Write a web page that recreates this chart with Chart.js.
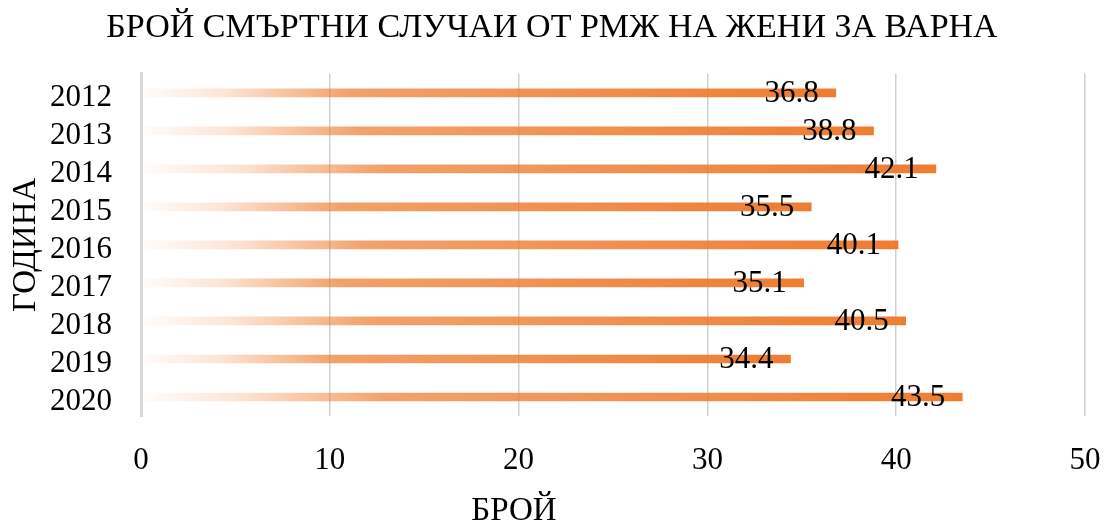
<!DOCTYPE html>
<html>
<head>
<meta charset="utf-8">
<title>БРОЙ СМЪРТНИ СЛУЧАИ ОТ РМЖ НА ЖЕНИ ЗА ВАРНА</title>
<script src="https://cdn.jsdelivr.net/npm/chart.js@4/dist/chart.umd.min.js"></script>
<style>
  html, body { margin: 0; padding: 0; background: #fff; }
  canvas { display: block; }
</style>
</head>
<body>
<canvas id="chart" width="1104" height="522"></canvas>
<script>
// data
const years = ['2012', '2013', '2014', '2015', '2016', '2017', '2018', '2019', '2020'];
const deaths = [36.8, 38.8, 42.1, 35.5, 40.1, 35.1, 40.5, 34.4, 43.5];
const xTicks = [0, 10, 20, 30, 40, 50];

const SERIF = '"Liberation Serif", "Times New Roman", serif';
const ORANGE = 'rgb(237,125,49)';

// each bar fades from nothing at zero to full orange at its end
function barGradient(context) {
  const chart = context.chart;
  if (!chart.chartArea || context.type !== 'data') return ORANGE;
  const xScale = chart.scales.x;
  const x0 = xScale.getPixelForValue(0);
  const x1 = xScale.getPixelForValue(context.raw);
  const g = chart.ctx.createLinearGradient(x0, 0, x1, 0);
  g.addColorStop(0, 'rgba(237,125,49,0.02)');
  g.addColorStop(0.12, 'rgba(237,125,49,0.2)');
  g.addColorStop(0.3, 'rgba(237,125,49,0.72)');
  g.addColorStop(1, 'rgba(237,125,49,1)');
  return g;
}

// value labels just inside the end of each bar, plus the x axis title
// (which sits left of the plot centre in the original)
const extraText = {
  id: 'extraText',
  afterDatasetsDraw(chart) {
    const ctx = chart.ctx;
    const meta = chart.getDatasetMeta(0);
    ctx.save();
    ctx.fillStyle = '#000';
    ctx.font = '31px ' + SERIF;
    ctx.textAlign = 'right';
    ctx.textBaseline = 'middle';
    meta.data.forEach((bar, i) => {
      ctx.fillText(deaths[i].toFixed(1), bar.x - 17, bar.y + 1);
    });
    ctx.font = '33px ' + SERIF;
    ctx.textAlign = 'center';
    ctx.textBaseline = 'alphabetic';
    ctx.fillText('БРОЙ', 514, 520);
    ctx.restore();
  }
};

const ctx = document.getElementById('chart').getContext('2d');
new Chart(ctx, {
  type: 'bar',
  data: {
    labels: years,
    datasets: [{
      label: 'БРОЙ',
      data: deaths,
      backgroundColor: barGradient,
      borderWidth: 0,
      barThickness: 8
    }]
  },
  options: {
    indexAxis: 'y',
    responsive: false,
    animation: false,
    layout: { padding: 0 },
    plugins: {
      legend: { display: false },
      tooltip: { enabled: false },
      title: {
        display: true,
        text: 'БРОЙ СМЪРТНИ СЛУЧАИ ОТ РМЖ НА ЖЕНИ ЗА ВАРНА',
        color: '#000',
        font: { family: SERIF, size: 34, weight: 'normal', lineHeight: 1.2 },
        padding: { top: 8, bottom: 25 }
      }
    },
    scales: {
      x: {
        min: 0,
        max: 50,
        afterBuildTicks(scale) {
          scale.ticks = xTicks.map(v => ({ value: v }));
        },
        afterFit(scale) {
          scale.height = 106;
          scale.paddingLeft = 0;
          scale.paddingRight = 19;
        },
        grid: { color: '#d0d0d0', lineWidth: 1.5, drawTicks: false },
        border: { display: false },
        ticks: {
          color: '#000',
          padding: 26,
          font: { family: SERIF, size: 31 }
        }
      },
      y: {
        afterFit(scale) {
          scale.width = 141;
          scale.paddingTop = 0;
          scale.paddingBottom = 0;
        },
        grid: { display: false, drawTicks: false },
        border: { display: true, color: '#d9d9d9', width: 3 },
        ticks: {
          color: '#000',
          padding: 29,
          labelOffset: 5,
          autoSkip: false,
          font: { family: SERIF, size: 31 }
        },
        title: {
          display: true,
          text: 'ГОДИНА',
          color: '#000',
          font: { family: SERIF, size: 33, lineHeight: 1.2 },
          padding: { top: 7, bottom: 0 }
        }
      }
    }
  },
  plugins: [extraText]
});
</script>
</body>
</html>
